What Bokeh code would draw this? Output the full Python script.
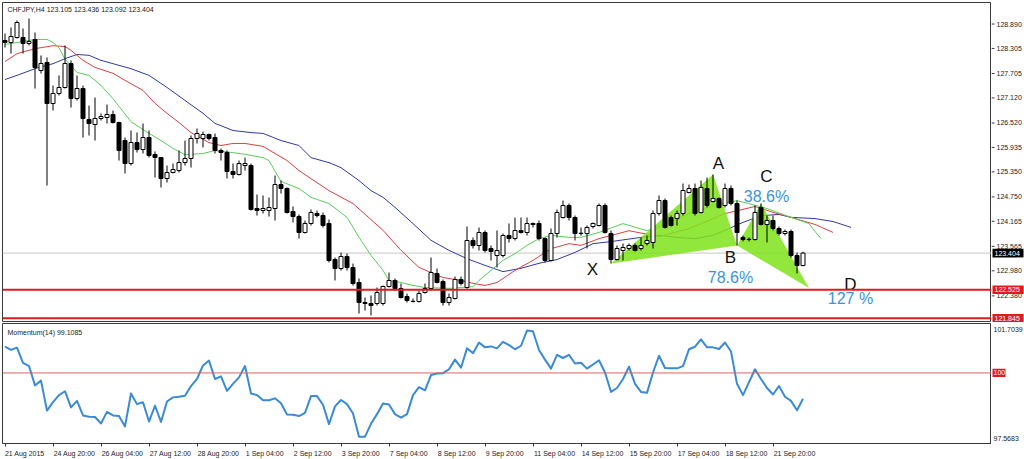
from bokeh.plotting import figure
from bokeh.models import Range1d, FixedTicker, Span, Label, ColumnDataSource
from bokeh.layouts import column, row
from bokeh.embed import file_html
from bokeh.resources import INLINE
from bokeh.core.properties import value

# ---------------- data ----------------
symbol_title = "CHFJPY,H4  123.105 123.436 123.092 123.404"
momentum_title = "Momentum(14) 99.1085"

opens = [128.495, 128.447, 128.567, 128.567, 128.423, 128.519, 127.776, 127.968, 126.986, 127.226,
         127.369, 127.944, 127.106, 127.345, 126.603, 126.483, 126.627, 126.651, 126.723, 126.531,
         126.100, 125.549, 126.052, 125.884, 126.172, 125.765, 125.693, 125.190, 125.334, 125.381,
         125.573, 125.669, 126.148, 126.148, 126.244, 126.172, 125.861, 125.813, 125.358, 125.286,
         125.501, 125.501, 124.472, 124.424, 124.424, 124.472, 125.046, 124.951, 124.400, 124.280,
         123.897, 124.113, 124.352, 124.304, 124.113, 123.251, 123.035, 123.322, 123.059, 122.700,
         122.221, 122.197, 122.197, 122.197, 122.604, 122.748, 122.556, 122.364, 122.245, 122.245,
         122.460, 122.556, 122.915, 122.724, 122.221, 122.317, 122.772, 122.580, 123.706, 123.586,
         123.897, 123.514, 123.346, 123.346, 123.825, 123.753, 123.945, 123.897, 124.113, 124.113,
         123.753, 123.227, 123.873, 124.256, 124.544, 124.256, 123.873, 123.873, 124.041, 124.065,
         124.544, 123.873, 123.251, 123.466, 123.514, 123.586, 123.514, 123.634, 123.658, 124.352,
         124.663, 124.256, 124.232, 124.352, 124.855, 124.951, 124.376, 124.951, 124.639, 124.711,
         124.544, 124.951, 124.592, 123.777, 123.729, 123.729, 124.496, 124.089, 124.184, 123.993,
         123.873, 123.921, 123.346, 123.105]
highs = [128.662, 128.806, 128.974, 128.782, 129.022, 128.686, 128.136, 128.088, 127.417, 127.657,
         128.375, 128.016, 127.657, 127.417, 126.938, 127.130, 126.747, 126.962, 126.818, 126.550,
         126.172, 126.340, 126.292, 126.507, 126.340, 125.837, 125.700, 125.501, 125.549, 125.861,
         126.100, 126.220, 126.387, 126.316, 126.268, 126.268, 125.908, 125.861, 125.549, 125.621,
         125.693, 125.549, 124.807, 124.783, 124.735, 125.262, 125.142, 124.975, 124.520, 124.328,
         124.184, 124.448, 124.424, 124.376, 124.208, 123.298, 123.418, 123.394, 123.155, 122.796,
         122.340, 122.388, 122.580, 122.628, 122.939, 122.796, 122.676, 122.436, 122.317, 122.508,
         122.676, 123.298, 123.035, 122.772, 122.436, 122.843, 122.843, 124.041, 123.777, 124.017,
         123.945, 123.586, 123.945, 123.873, 124.113, 124.256, 124.256, 124.256, 124.137, 124.184,
         123.777, 123.993, 124.448, 124.663, 124.592, 124.304, 124.017, 124.065, 124.137, 124.592,
         124.592, 123.945, 123.586, 123.634, 123.634, 123.634, 123.777, 123.825, 124.424, 124.783,
         124.711, 124.304, 124.424, 125.070, 125.046, 125.070, 125.142, 125.214, 125.286, 124.735,
         125.070, 125.023, 124.663, 123.825, 123.777, 124.544, 124.592, 124.304, 124.304, 124.041,
         123.969, 123.969, 123.418, 123.436]
lows = [128.327, 128.184, 128.543, 128.184, 128.375, 127.345, 127.705, 125.023, 126.818, 127.178,
        127.345, 126.890, 127.058, 126.172, 126.220, 126.100, 126.579, 126.507, 126.507, 125.621,
        125.310, 125.501, 125.813, 125.789, 125.693, 125.214, 124.975, 125.094, 125.310, 125.334,
        125.501, 125.453, 126.028, 125.933, 126.100, 125.789, 125.621, 125.190, 125.190, 125.262,
        125.381, 124.424, 124.304, 124.352, 124.280, 124.184, 124.831, 124.352, 124.137, 123.753,
        123.873, 124.065, 124.256, 124.017, 123.179, 122.748, 122.987, 122.987, 122.628, 121.957,
        122.029, 121.910, 122.149, 122.149, 122.580, 122.508, 122.317, 122.221, 122.221, 122.221,
        122.436, 122.508, 122.676, 122.149, 122.149, 122.293, 122.628, 122.550, 123.514, 123.466,
        123.418, 123.227, 123.059, 123.298, 123.658, 123.706, 123.873, 123.825, 124.017, 123.706,
        123.179, 123.203, 123.777, 124.232, 124.184, 123.706, 123.825, 123.514, 123.993, 124.041,
        123.873, 123.155, 123.227, 123.227, 123.466, 123.442, 123.466, 123.586, 123.514, 124.304,
        123.993, 124.041, 124.065, 124.304, 124.831, 124.304, 124.352, 124.496, 124.616, 124.472,
        124.496, 124.544, 123.586, 123.682, 123.682, 123.706, 124.065, 123.658, 123.945, 123.825,
        123.825, 123.298, 122.915, 123.092]
closes = [128.447, 128.591, 128.926, 128.423, 128.471, 127.848, 127.944, 126.986, 127.226, 127.369,
          127.944, 127.106, 127.345, 126.627, 126.507, 126.627, 126.675, 126.723, 126.531, 125.861,
          125.549, 126.052, 125.884, 126.172, 125.741, 125.693, 125.190, 125.334, 125.405, 125.573,
          125.669, 126.148, 126.268, 126.244, 126.148, 125.861, 125.813, 125.358, 125.286, 125.549,
          125.549, 124.448, 124.424, 124.472, 124.496, 125.046, 124.951, 124.376, 124.280, 123.897,
          124.113, 124.376, 124.304, 124.065, 123.227, 123.035, 123.322, 123.059, 122.676, 122.221,
          122.197, 122.149, 122.460, 122.604, 122.748, 122.556, 122.340, 122.269, 122.250, 122.436,
          122.556, 122.939, 122.700, 122.221, 122.340, 122.772, 122.676, 123.706, 123.586, 123.897,
          123.466, 123.442, 123.466, 123.825, 123.753, 123.945, 123.897, 124.113, 124.089, 123.753,
          123.227, 123.873, 124.376, 124.544, 124.256, 123.873, 123.880, 124.017, 124.113, 124.544,
          123.897, 123.251, 123.514, 123.538, 123.586, 123.466, 123.586, 123.706, 124.352, 124.663,
          124.017, 124.065, 124.352, 124.903, 124.951, 124.352, 124.975, 124.544, 124.711, 124.496,
          124.951, 124.592, 123.897, 123.729, 123.735, 124.376, 124.089, 124.184, 123.993, 123.873,
          123.921, 123.346, 123.107, 123.404]

# Alligator lines (sampled), shifted forward past the last bar
lips_bars = [0, 5, 7, 8, 9, 10, 12, 14, 16, 18, 19, 21, 24, 26, 28, 30, 33, 35, 38, 40,
             43, 44, 46, 49, 51, 54, 57, 59, 61, 63, 64, 66, 68, 70, 74, 76, 78, 79, 81, 83,
             85, 87, 89, 91, 94, 96, 99, 103, 107, 111, 114, 118, 122, 124, 127, 131, 134, 135, 136]
lips = [128.40, 128.52, 128.52, 128.45, 128.32, 128.05, 127.73, 127.66, 127.42, 127.10,
        126.92, 126.55, 126.27, 126.10, 125.91, 125.76, 125.79, 125.86, 125.81, 125.77,
        125.69, 125.62, 125.12, 124.95, 124.74, 124.59, 124.26, 123.78, 123.35, 122.99,
        122.75, 122.70, 122.63, 122.58, 122.56, 122.58, 122.60, 122.75, 122.99, 123.23,
        123.39, 123.59, 123.75, 123.83, 123.78, 123.78, 123.90, 124.11, 123.94, 124.14,
        124.35, 124.54, 124.66, 124.59, 124.47, 124.26, 124.11, 123.92, 123.75]
teeth_bars = [0, 2, 5, 8, 10, 11, 13, 15, 18, 20, 23, 25, 27, 29, 31, 34, 36, 38, 40, 43,
              45, 47, 49, 54, 58, 63, 66, 69, 73, 76, 78, 80, 82, 85, 88, 91, 94, 96, 99, 104,
              109, 114, 120, 125, 128, 131, 135, 138]
teeth = [127.99, 128.18, 128.30, 128.37, 128.35, 128.26, 128.02, 127.85, 127.71, 127.54,
         127.30, 126.99, 126.75, 126.53, 126.29, 126.05, 125.98, 126.03, 126.03, 125.96,
         125.79, 125.62, 125.38, 124.90, 124.59, 123.95, 123.47, 123.06, 122.82, 122.75,
         122.68, 122.63, 122.70, 122.99, 123.23, 123.51, 123.63, 123.59, 123.75, 123.94,
         123.80, 123.99, 124.35, 124.52, 124.38, 124.26, 124.09, 123.90]
jaw_bars = [0, 2, 5, 8, 10, 12, 14, 16, 19, 21, 24, 27, 30, 33, 35, 38, 41, 43, 46, 49,
            51, 54, 56, 59, 61, 63, 65, 68, 71, 74, 77, 80, 83, 86, 89, 92, 95, 98, 101, 106,
            109, 112, 115, 118, 120, 123, 126, 129, 131, 135, 138, 141]
jaw = [127.56, 127.66, 127.82, 127.94, 128.06, 128.16, 128.14, 128.02, 127.90, 127.82,
       127.66, 127.37, 127.06, 126.75, 126.51, 126.34, 126.29, 126.27, 126.10, 125.98,
       125.69, 125.57, 125.45, 125.14, 124.90, 124.74, 124.50, 124.11, 123.71, 123.47,
       123.27, 123.11, 122.96, 123.04, 123.16, 123.25, 123.42, 123.63, 123.68, 123.78,
       123.83, 123.78, 123.75, 123.83, 123.95, 124.14, 124.30, 124.33, 124.26, 124.23,
       124.16, 124.02]

momentum = [100.904, 100.793, 100.871, 100.348, 100.237, 99.570, 99.736, 98.702, 98.992, 99.236,
            99.370, 98.814, 99.036, 98.536, 98.491, 98.480, 98.258, 98.658, 98.536, 98.513,
            98.158, 99.292, 98.925, 98.992, 98.324, 98.869, 98.313, 99.014, 99.158, 99.181,
            99.214, 99.547, 99.792, 100.259, 100.426, 99.792, 99.881, 99.381, 99.625, 99.848,
            100.237, 99.292, 99.236, 99.058, 99.058, 99.125, 98.958, 98.569, 98.558, 98.513,
            98.625, 99.203, 99.203, 98.903, 98.235, 98.847, 99.069, 98.925, 98.602, 97.803,
            97.803, 98.247, 98.580, 98.947, 98.914, 98.580, 98.457, 98.580, 99.236, 99.514,
            99.403, 99.926, 99.981, 99.992, 100.126, 100.459, 100.181, 100.848, 100.682, 101.048,
            100.882, 100.915, 100.848, 101.071, 100.960, 100.815, 100.937, 101.460, 101.438, 100.793,
            100.459, 100.148, 100.626, 100.515, 100.626, 100.326, 100.348, 100.148, 100.292, 100.437,
            100.014, 99.347, 99.481, 99.792, 100.215, 99.625, 99.347, 99.314, 100.014, 100.593,
            100.170, 100.159, 100.159, 100.237, 100.815, 100.904, 101.160, 100.882, 100.882, 100.826,
            101.048, 100.737, 99.625, 99.236, 99.681, 100.126, 99.792, 99.481, 99.258, 99.547,
            99.181, 99.036, 98.714, 99.1085]
momentum_level = 100.0
momentum_scale = [97.5683, 101.7039]

price_ticks = [128.890, 128.305, 127.705, 127.120, 126.520, 125.935, 125.350,
               124.750, 124.165, 123.565, 122.980, 122.380]
current_price = 123.404
level_prices = [122.525, 121.845]

time_tick_bars = [0, 8, 16, 24, 32, 40, 48, 56, 64, 72, 80, 88, 96, 104, 112, 120, 128]
time_labels = ["21 Aug 2015", "24 Aug 20:00", "26 Aug 04:00", "27 Aug 12:00", "28 Aug 20:00",
               "1 Sep 04:00", "2 Sep 12:00", "3 Sep 20:00", "7 Sep 04:00", "8 Sep 12:00",
               "9 Sep 20:00", "11 Sep 04:00", "14 Sep 12:00", "15 Sep 20:00", "17 Sep 04:00",
               "18 Sep 12:00", "21 Sep 20:00"]

# harmonic pattern points
pattern_names = ["X", "A", "B", "C", "D"]
pattern_bars = [101, 118, 122, 126, 134]
pattern_prices = [123.155, 125.286, 123.586, 124.592, 122.570]
ratio_names = ["B", "C", "D"]
ratio_texts = ["78.6%", "38.6%", "127 %"]

# ---------------- layout geometry ----------------
FONT = "Liberation Sans"
AXIS_COL = "#3a3a3a"
TXT_COL = "#222222"
RED = "#e01b1b"
PX_BAR = 6.0
BAR0_PX = 4.5
FRAME_LEFT, FRAME_RIGHT = 2, 991
SIDE_W = 1024 - FRAME_RIGHT
MAIN_TOP, MAIN_H = 2, 320
PX_PER_YEN = 41.76
PRICE_TOP = 129.405
MOM_TOP, MOM_H = 323, 125
MOM_BOTTOM_BORDER = 11
MOM_PX = MOM_H / (momentum_scale[1] - momentum_scale[0])


def bx(px):
    return (px - BAR0_PX) / PX_BAR


def py(px):
    return PRICE_TOP - (px - MAIN_TOP) / PX_PER_YEN


def my(px):
    return momentum_scale[1] - (px - MOM_TOP) / MOM_PX


def style(fig):
    fig.xgrid.visible = False
    fig.ygrid.visible = False
    fig.background_fill_color = "white"
    fig.border_fill_color = "white"


N = len(closes)
bars = list(range(N))

xr = Range1d(bx(FRAME_LEFT), bx(FRAME_RIGHT))
yr_main = Range1d(py(MAIN_TOP + MAIN_H), PRICE_TOP)
yr_mom = Range1d(momentum_scale[0], momentum_scale[1])

# ---------------- main price panel ----------------
p = figure(width=FRAME_RIGHT, height=MAIN_TOP + MAIN_H, x_range=xr, y_range=yr_main,
           output_backend="svg", toolbar_location=None, tools="",
           x_axis_location=None, y_axis_location=None,
           min_border_left=FRAME_LEFT, min_border_right=0, min_border_top=MAIN_TOP, min_border_bottom=0)
style(p)
p.outline_line_color = AXIS_COL

p.add_layout(Span(location=current_price, dimension="width", line_color="#c8c8c8",
                  line_width=1, level="underlay"))

# alligator (drawn below the pattern fill, which tints it)
p.line(jaw_bars, jaw, line_color="#2f3aa8", line_width=1)
p.line(teeth_bars, teeth, line_color="#d9413f", line_width=1)
p.line(lips_bars, lips, line_color="#58cf58", line_width=1)

ix = {n: i for i, n in enumerate(pattern_names)}
tri = [["X", "A", "B"], ["B", "C", "D"]]
p.patches(xs=[[pattern_bars[ix[n]] for n in t] for t in tri],
          ys=[[pattern_prices[ix[n]] for n in t] for t in tri],
          fill_color="#7fe31a", fill_alpha=0.85, line_color=None)

src = ColumnDataSource(dict(
    x=bars, h=highs, l=lows,
    top=[max(o, c) for o, c in zip(opens, closes)],
    bottom=[min(o, c) for o, c in zip(opens, closes)],
    fill=["white" if c >= o else "black" for o, c in zip(opens, closes)],
))
p.segment(x0="x", y0="l", x1="x", y1="h", source=src, line_color="black", line_width=1)
p.vbar(x="x", width=4 / PX_BAR, top="top", bottom="bottom", fill_color="fill",
       line_color="black", line_width=1, source=src)

for lv in level_prices:
    p.add_layout(Span(location=lv, dimension="width", line_color=RED, line_width=2))

letter_dx = {"X": -18.5, "A": 5.5, "B": -6.5, "C": 5.5, "D": 41.5}
letter_dy = {"X": 6, "A": -11, "B": 12, "C": -27, "D": -3}
ratio_dy = {"B": 32, "C": -7, "D": 11}
p.text(x=pattern_bars, y=pattern_prices, text=pattern_names,
       x_offset=[letter_dx[n] for n in pattern_names], y_offset=[letter_dy[n] for n in pattern_names],
       text_font=value(FONT), text_font_size="17px", text_color="#111111",
       text_align="center", text_baseline="middle")
p.text(x=[pattern_bars[ix[n]] for n in ratio_names], y=[pattern_prices[ix[n]] for n in ratio_names],
       text=ratio_texts,
       x_offset=[letter_dx[n] for n in ratio_names], y_offset=[ratio_dy[n] for n in ratio_names],
       text_font=value(FONT), text_font_size="16px", text_color="#3b94d9",
       text_align="center", text_baseline="middle")

p.add_layout(Label(x=bx(7), y=py(9), text=symbol_title, text_font=FONT, text_font_size="7px",
                   text_color=TXT_COL, text_align="left", text_baseline="middle"))

# ---------------- price scale (side strip) ----------------
s1 = figure(width=SIDE_W, height=MAIN_TOP + MAIN_H, x_range=Range1d(0, SIDE_W), y_range=yr_main,
            output_backend="svg", toolbar_location=None, tools="",
            x_axis_location=None, y_axis_location=None,
            min_border_left=0, min_border_right=0, min_border_top=MAIN_TOP, min_border_bottom=0)
style(s1)
s1.outline_line_color = None
s1.segment(x0=0, y0=price_ticks, x1=3, y1=price_ticks, line_color=AXIS_COL, line_width=1)
s1.text(x=5, y=price_ticks, text=["%.3f" % t for t in price_ticks],
        text_font=value(FONT), text_font_size="7px", text_color=TXT_COL,
        text_align="left", text_baseline="middle")
box_prices = [current_price] + level_prices
box_cols = ["black", RED, RED]
half_box = 4.3 / PX_PER_YEN
s1.quad(left=1, right=32, top=[b + half_box for b in box_prices], bottom=[b - half_box for b in box_prices],
        fill_color=box_cols, line_color=None)
s1.text(x=3, y=box_prices, text=["%.3f" % b for b in box_prices],
        text_font=value(FONT), text_font_size="7px", text_color="white",
        text_align="left", text_baseline="middle")

# ---------------- momentum panel ----------------
p2 = figure(width=FRAME_RIGHT, height=459 - (MAIN_TOP + MAIN_H), x_range=xr, y_range=yr_mom,
            output_backend="svg", toolbar_location=None, tools="",
            y_axis_location=None,
            min_border_left=FRAME_LEFT, min_border_right=0, min_border_top=1,
            min_border_bottom=MOM_BOTTOM_BORDER)
style(p2)
p2.outline_line_color = AXIS_COL

p2.add_layout(Span(location=momentum_level, dimension="width", line_color="#e06060", line_width=1))
p2.line(bars, momentum, line_color="#3a8ad6", line_width=2, line_join="round")

label_centers = [round(b + (3.5 * len(t) / 2 + 0.5) / PX_BAR, 3) for b, t in zip(time_tick_bars, time_labels)]
xa = p2.xaxis[0]
xa.ticker = FixedTicker(ticks=label_centers, minor_ticks=time_tick_bars)
xa.major_label_overrides = {c: t for c, t in zip(label_centers, time_labels)}
xa.major_tick_out = 0
xa.major_tick_in = 0
xa.major_tick_line_color = None
xa.minor_tick_out = 3
xa.minor_tick_in = 0
xa.minor_tick_line_color = AXIS_COL
xa.axis_line_color = AXIS_COL
xa.major_label_standoff = 3
xa.major_label_text_font = FONT
xa.major_label_text_font_size = "7px"
xa.major_label_text_color = TXT_COL

p2.add_layout(Label(x=bx(7), y=my(332), text=momentum_title, text_font=FONT, text_font_size="7px",
                    text_color=TXT_COL, text_align="left", text_baseline="middle"))

# ---------------- momentum scale (side strip) ----------------
s2 = figure(width=SIDE_W, height=459 - (MAIN_TOP + MAIN_H), x_range=Range1d(0, SIDE_W), y_range=yr_mom,
            output_backend="svg", toolbar_location=None, tools="",
            x_axis_location=None, y_axis_location=None,
            min_border_left=0, min_border_right=0, min_border_top=1,
            min_border_bottom=MOM_BOTTOM_BORDER)
style(s2)
s2.outline_line_color = None
scale_y = [my(329.7), my(443.0)]
s2.text(x=2, y=scale_y, text=["%.4f" % momentum_scale[1], "%.4f" % momentum_scale[0]],
        text_font=value(FONT), text_font_size="7px", text_color=TXT_COL,
        text_align="left", text_baseline="middle")
half_mbox = 4.3 / MOM_PX
s2.quad(left=[1], right=[14], top=[momentum_level + half_mbox], bottom=[momentum_level - half_mbox],
        fill_color=RED, line_color=None)
s2.text(x=[2], y=[momentum_level], text=["100"],
        text_font=value(FONT), text_font_size="7px", text_color="white",
        text_align="left", text_baseline="middle")

layout = column(row(p, s1, spacing=0), row(p2, s2, spacing=0), spacing=0)
open("out.html", "w").write(file_html(layout, INLINE, "CHFJPY H4"))
